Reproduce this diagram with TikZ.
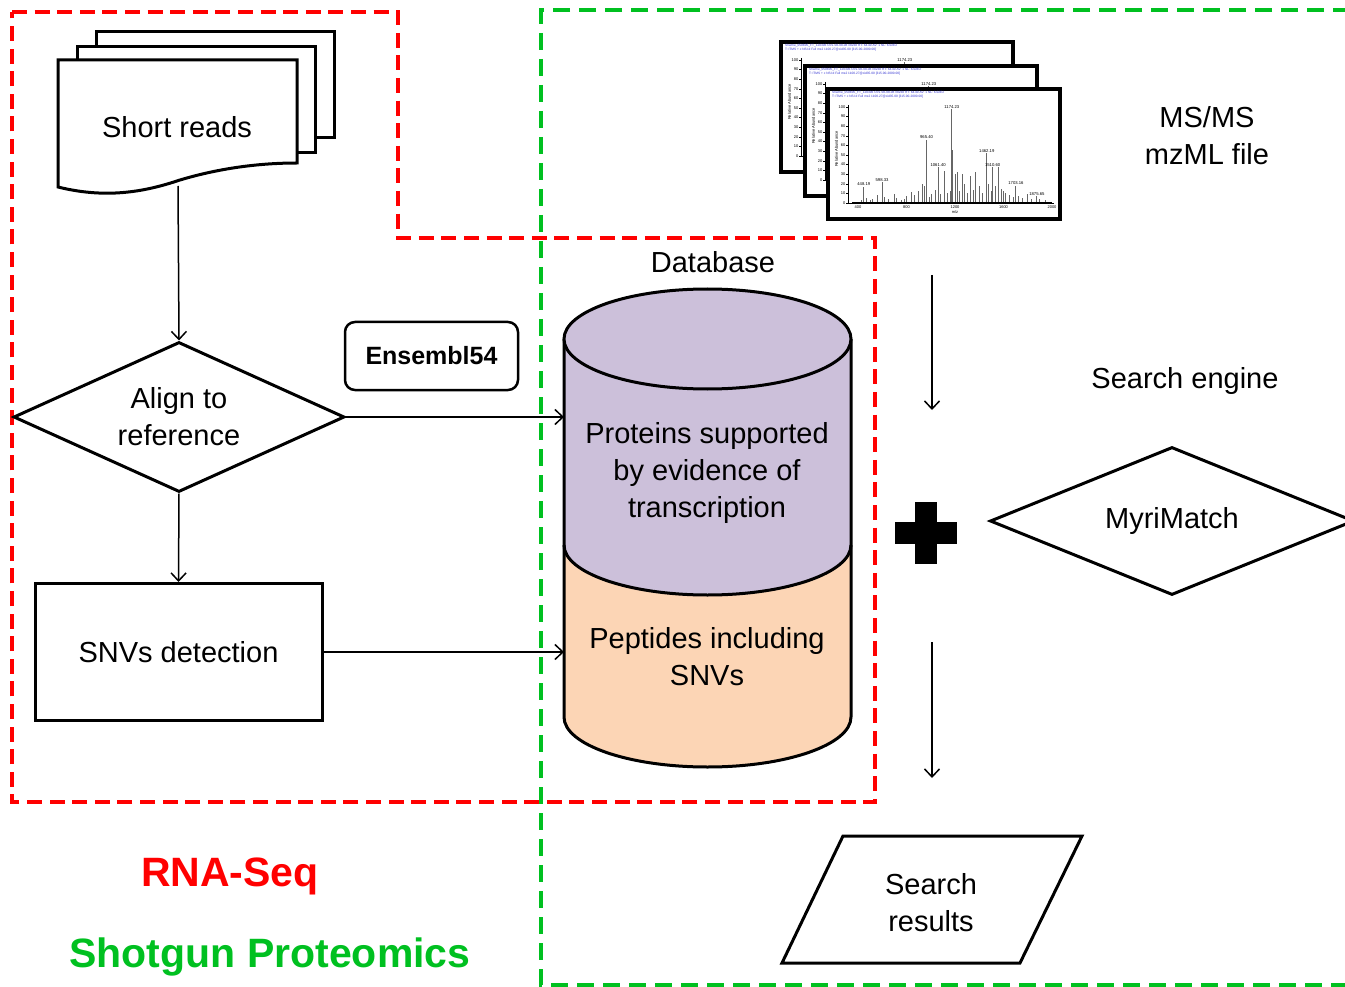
\documentclass[tikz,border=0pt]{standalone}
\usepackage{fontspec}
\setmainfont{Liberation Sans}
\usetikzlibrary{shapes.geometric,arrows.meta}
\definecolor{rnared}{RGB}{255,0,0}
\definecolor{pgreen}{RGB}{0,192,32}
\definecolor{lav}{RGB}{204,192,218}
\definecolor{peach}{RGB}{252,213,181}
\definecolor{specblue}{RGB}{50,50,210}

\newcommand\msplot[1]{%
\begin{scope}[shift={#1}, yscale=-1]
  \draw[fill=white, line width=3.5pt] (0,0) rectangle (232,130);
  \node[anchor=west, text=specblue, font=\fontsize{3.2}{3.2}\selectfont, inner sep=0] at (4,3.6) {Shwme\_050805\_FT\_120306 OVL 08-08-08 \#8238 RT: 64.40 AV: 1 NL: 6.02E2};
  \node[anchor=west, text=specblue, font=\fontsize{3.2}{3.2}\selectfont, inner sep=0] at (4,8) {T: ITMS + c NSI d Full ms2 1100.27@cid35.00 [315.00-2000.00]};
  \draw[line width=0.6pt] (20,16) -- (20,114) -- (226,114);
  \foreach \v in {0,10,...,100}{
    \draw[line width=0.4pt] (18,{114-\v*0.96}) -- (20,{114-\v*0.96});
    \node[anchor=east, font=\fontsize{4}{4}\selectfont, inner sep=0.5pt] at (18,{114-\v*0.96}) {\v};
  }
  \node[rotate=90, font=\fontsize{4}{4}\selectfont, inner sep=0] at (8.5,60) {Relative Abundance};
  \foreach \t in {400,800,1200,1600,2000}{
    \node[font=\fontsize{4}{4}\selectfont, inner sep=0] at ({30+(\t-400)*0.12125},118.5) {\t};
  }
  \node[font=\fontsize{4}{4}\selectfont, inner sep=0] at (127,123.5) {m/z};
  \foreach \m/\h in {430/3,448/17,470/5,500/3,520/4,560/8,598/22,620/6,650/4,700/9,720/5,760/3,780/4,800/7,840/11,870/8,900/12,930/20,950/18,965/66,990/6,1010/9,1040/14,1061/37,1080/9,1110/33,1140/10,1160/12,1174/98,1182/55,1200/30,1221/32,1240/12,1260/30,1280/20,1300/10,1330/28,1350/14,1370/32,1400/18,1430/10,1462/52,1480/20,1500/12,1510/37,1530/18,1560/37,1580/15,1600/12,1620/10,1650/8,1680/6,1703/18,1720/7,1760/5,1800/9,1830/4,1875/7,1900/4,1950/3}{
    \pgfmathsetmacro\lx{30+(\m-400)*0.12125}
    \draw[black!60, line width=1pt] (\lx,114) -- (\lx,{114-\h*0.96});
  }
  \draw[black, line width=1.4pt] (24,113.3) -- (224,113.3);
  \foreach \m/\h/\l in {448/17/448.19,598/22/598.33,965/66/965.40,1061/37/1061.40,1174/98/1174.23,1462/52/1462.19,1510/37/1510.60,1703/18/1703.16,1875/7/1875.65}{
    \pgfmathsetmacro\lx{30+(\m-400)*0.12125}
    \node[anchor=south, font=\fontsize{4.2}{4.2}\selectfont, inner sep=0.6pt] at (\lx,{114-\h*0.96}) {\l};
  }
\end{scope}}

\begin{document}
\begin{tikzpicture}[x=1pt,y=1pt,
  txt/.style={font=\fontsize{29}{37}\selectfont, align=center, inner sep=0, yshift=-3pt},
  shapeline/.style={draw=black, line width=3pt},
  conn/.style={draw=black, line width=1.5pt, -{Straight Barb[length=8pt,width=15pt,line width=1.5pt]}},
  reddash/.style={draw=rnared, line width=4.5pt, dash pattern=on 15pt off 7.6pt},
  greendash/.style={draw=pgreen, line width=4.5pt, dash pattern=on 17pt off 9pt},
]
\useasboundingbox (0,0) rectangle (1345,-987);

% regions
\draw[greendash] (1350,-10) -- (541,-10) -- (541,-985) -- (1350,-985);
\draw[reddash] (12,-12) -- (398,-12) -- (398,-238) -- (875,-238) -- (875,-802) -- (12,-802) -- cycle;

% short reads stack
\draw[shapeline, fill=white] (96,-32) rectangle (334,-138);
\draw[shapeline, fill=white] (77,-47) rectangle (315,-153);
\draw[shapeline, fill=white] (58,-60) -- (297,-60) -- (297,-163)
  .. controls (260,-163) and (220,-168) .. (180,-180)
  .. controls (150,-190) and (110,-200) .. (58,-187) -- cycle;
\node[txt] (sr) at (177,-124) {Short reads};
\coordinate (srb) at (178,-186);

% align diamond
\node[txt, diamond, shapeline, minimum width=331pt, minimum height=150pt, aspect=2.2, yshift=3pt] (align) at (179,-417) {Align to\\reference};

% SNVs detection
\node[txt, rectangle, shapeline, minimum width=287pt, minimum height=137pt, yshift=3pt] (snv) at (178.5,-652) {SNVs detection};

% Ensembl54
\node[draw=black, line width=2.5pt, rounded corners=10pt, minimum width=173pt, minimum height=68pt, font=\fontsize{25}{30}\selectfont\bfseries, inner sep=0] (ens) at (431.5,-356) {Ensembl54};

% database cylinder
\node[txt] (dbl) at (713,-259) {Database};
\fill[lav] (564,-339) -- (564,-545) arc[start angle=180, end angle=360, x radius=143.5, y radius=50] -- (851,-339) -- cycle;
\fill[peach] (564,-545) arc[start angle=180, end angle=360, x radius=143.5, y radius=50] -- (851,-717) arc[start angle=360, end angle=180, x radius=143.5, y radius=50] -- cycle;
\draw[shapeline] (564,-339) -- (564,-717) arc[start angle=180, end angle=360, x radius=143.5, y radius=50] -- (851,-339);
\draw[shapeline] (564,-545) arc[start angle=180, end angle=360, x radius=143.5, y radius=50];
\draw[shapeline, fill=lav] (707.5,-339) ellipse[x radius=143.5, y radius=50];
\node[txt] (prot) at (707,-470) {Proteins supported\\by evidence of\\transcription};
\node[txt] (pept) at (707,-654) {Peptides including\\SNVs};
\coordinate (cylA) at (564,-417);
\coordinate (cylB) at (564,-652);

% connectors left
\draw[conn] (srb) -- (align.north);
\draw[conn] (align.south) -- (snv.north);
\draw[conn] (align.east) -- (cylA);
\draw[conn] (snv.east) -- (cylB);

% MS/MS spectra
\msplot{(781,-42)}
\msplot{(805,-66)}
\msplot{(828,-89)}
\node[txt] (msl) at (1207,-133) {MS/MS\\mzML file};

% right column
\coordinate (a1s) at (932,-275);
\coordinate (a1e) at (932,-410);
\draw[conn] (a1s) -- (a1e);
\node[txt] (se) at (1185,-378) {Search engine};
\fill[black] (895,-522) rectangle (957,-544);
\fill[black] (915,-502) rectangle (937,-564);
\node[txt, diamond, shapeline, minimum width=364pt, minimum height=148pt, aspect=2.46, yshift=3pt] (myri) at (1172,-521) {MyriMatch};
\coordinate (a2s) at (932,-642);
\coordinate (a2e) at (932,-778);
\draw[conn] (a2s) -- (a2e);
\draw[shapeline] (843,-836) -- (1082,-836) -- (1020,-963) -- (782,-963) -- cycle;
\node[txt] (res) at (931,-900) {Search\\results};

% legends
\node[font=\fontsize{41}{48}\selectfont\bfseries, text=rnared, inner sep=0] (rna) at (230,-876) {RNA-Seq};
\node[font=\fontsize{41}{48}\selectfont\bfseries, text=pgreen, inner sep=0] (sgp) at (270,-957) {Shotgun Proteomics};
\end{tikzpicture}
\end{document}
